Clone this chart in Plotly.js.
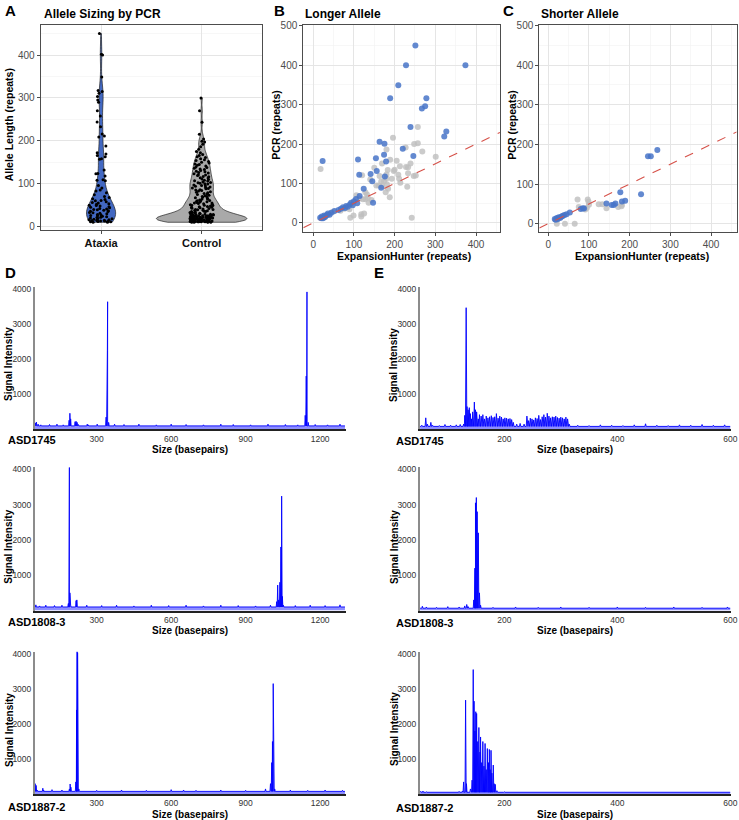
<!DOCTYPE html>
<html>
<head>
<meta charset="utf-8">
<script src="https://cdn.plot.ly/plotly-3.0.1.min.js"></script>
<style>html,body{margin:0;padding:0;background:#fff;}#chart{width:739px;height:820px;}</style>
</head>
<body>
<div id="chart"></div>
<script>
// ---------------- DATA ----------------
// Panel A: allele sizing by PCR (repeats)
const groups = ['Ataxia', 'Control'];
const ataxiaRepeats = [450, 402, 400, 349, 317, 315, 311, 303, 295, 290, 270, 258, 244, 233, 216, 211, 209, 188, 172, 169,
  166, 163, 158, 157, 132, 124, 123, 118, 109, 108, 107, 96, 90, 85, 83, 79, 74, 70, 68, 65,
  63, 61, 60, 58, 56, 55, 53, 52, 50, 49, 48, 46, 45, 44, 42, 41, 40, 39, 38, 37,
  36, 35, 33, 32, 31, 30, 28, 27, 26, 25, 24, 23, 22, 21, 20, 19, 18, 17, 16, 16,
  15, 15, 14, 14, 13, 13, 12, 12, 11, 11, 10, 10];
const controlRepeats = [10, 10, 10, 10, 11, 11, 11, 11, 11, 12, 12, 12, 12, 12, 12, 13, 13, 13, 13, 13,
  13, 14, 14, 14, 14, 14, 15, 15, 15, 15, 15, 15, 16, 16, 16, 16, 16, 17, 17, 17,
  17, 18, 18, 18, 18, 18, 19, 19, 19, 19, 20, 20, 20, 20, 21, 21, 21, 22, 22, 22,
  23, 23, 23, 24, 24, 24, 25, 25, 25, 25, 26, 26, 27, 27, 28, 28, 29, 29, 30, 30,
  31, 31, 32, 33, 33, 34, 35, 35, 36, 37, 38, 38, 39, 40, 40, 41, 42, 43, 44, 45,
  45, 46, 47, 48, 49, 50, 50, 51, 52, 53, 54, 55, 55, 56, 57, 58, 59, 60, 60, 61,
  62, 64, 64, 66, 67, 69, 70, 70, 72, 73, 75, 76, 77, 79, 80, 81, 83, 84, 85, 86,
  88, 89, 90, 91, 92, 94, 95, 96, 97, 99, 100, 102, 101, 103, 104, 106, 107, 108, 110, 111,
  113, 114, 116, 117, 119, 120, 121, 123, 125, 126, 128, 129, 131, 133, 134, 136, 138, 139, 141, 143,
  145, 146, 148, 150, 152, 154, 156, 158, 161, 163, 166, 168, 172, 175, 180, 186, 192, 197, 199, 204,
  215, 243, 270, 300];

// Panel B: longer allele, ExpansionHunter vs PCR (repeats)
const bAtaxiaEH  = [251, 228, 374, 209, 189, 278, 275, 267, 239, 327, 322, 163, 175, 220, 246, 154, 174, 179, 110, 23,
  156, 141, 113, 145, 176, 167, 147, 124, 105, 114, 93, 81, 73, 68, 97, 52, 44, 36, 27, 21,
  17, 26, 31, 40, 108, 85, 62, 20, 24, 29, 34, 90, 100, 78];
const bAtaxiaPCR = [450, 400, 400, 349, 316, 316, 296, 290, 243, 232, 219, 206, 201, 188, 170, 164, 173, 156, 161, 157,
  132, 124, 122, 106, 118, 89, 51, 87, 61, 68, 51, 43, 40, 36, 45, 30, 26, 24, 19, 16,
  13, 14, 18, 21, 50, 41, 33, 12, 12, 15, 20, 47, 55, 38];
const bControlEH  = [18, 196, 257, 227, 248, 257, 268, 301, 180, 169, 189, 205, 239, 228, 233, 213, 198, 183, 180, 209,
  233, 247, 252, 193, 167, 155, 169, 181, 214, 231, 211, 120, 188, 242, 91, 99, 118, 118, 125, 114,
  128, 134, 143, 132, 128, 136, 89, 77, 67, 48, 161, 163, 180, 174, 184, 178, 106, 150, 140, 200, 122];
const bControlPCR = [137, 216, 243, 191, 200, 202, 181, 168, 186, 151, 160, 158, 151, 142, 141, 144, 132, 134, 123, 122,
  126, 119, 120, 112, 105, 95, 93, 98, 102, 92, 112, 121, 65, 13, 13, 19, 16, 22, 24, 62,
  60, 64, 58, 72, 78, 51, 35, 36, 31, 28, 95, 119, 113, 106, 87, 78, 70, 140, 110, 135, 60];

// Panel C: shorter allele
const cAtaxiaEH  = [268, 245, 252, 177, 228, 189, 181, 165, 156, 161, 143, 85, 80, 88, 53, 40, 34, 31, 26, 21, 16, 23, 29, 18, 36, 45];
const cAtaxiaPCR = [186, 170, 170, 79, 74, 58, 56, 51, 47, 47, 51, 39, 37, 38, 28, 22, 19, 17, 16, 14, 12, 11, 14, 10, 20, 24];
const cControlEH  = [72, 97, 99, 124, 133, 143, 172, 181, 95, 91, 21, 41, 65, 180, 100, 75];
const cControlPCR = [61, 61, 55, 49, 49, 39, 42, 48, 40, 36, 0, 0, 0, 44, 48, 42];

// reference line PCR = slope * ExpansionHunter
const refSlope = 0.5;

// Panels D/E: capillary electropherograms (size in bp, signal intensity)
const sampleNames = ['ASD1745', 'ASD1808-3', 'ASD1887-2'];
const dScan = [51, 1300];
const eScan = [51, 600];

const d1Floor = 100;
const d1PeakSize   = [53, 57, 64, 75, 110, 140, 165, 189, 192, 195, 213, 217, 221, 226, 262, 266, 302, 338, 341, 343,
  344, 346, 348, 372, 410, 470, 540, 600, 660, 730, 800, 850, 920, 990, 1060, 1110, 1140, 1144, 1147, 1149, 1152, 1180, 1230, 1280];
const d1PeakSignal = [180, 210, 150, 130, 140, 150, 130, 260, 460, 300, 220, 230, 200, 140, 150, 130, 150, 350, 950, 2250,
  3640, 550, 200, 150, 140, 150, 130, 150, 140, 130, 150, 140, 130, 150, 140, 130, 400, 1520, 3920, 350, 200, 140, 130, 150];

const d2Floor = 100;
const d2PeakSize   = [55, 70, 95, 130, 160, 186, 188, 190, 192, 195, 217, 220, 260, 320, 380, 450, 520, 590, 660, 730,
  800, 870, 940, 1000, 1025, 1029, 1033, 1038, 1042, 1045, 1048, 1052, 1100, 1160, 1220, 1280];
const d2PeakSignal = [160, 130, 150, 140, 150, 200, 1200, 4050, 500, 150, 280, 300, 150, 140, 150, 130, 150, 140, 150, 130,
  150, 140, 130, 150, 250, 720, 300, 800, 1800, 3240, 400, 150, 140, 150, 140, 160];

const d3Floor = 80;
const d3PeakSize   = [52, 56, 60, 83, 86, 120, 160, 190, 193, 196, 216, 219, 221, 223, 225, 228, 300, 400, 500, 600,
  650, 700, 800, 900, 980, 1000, 1005, 1008, 1011, 1014, 1017, 1080, 1150, 1220, 1290];
const d3PeakSignal = [300, 250, 120, 170, 120, 130, 120, 150, 290, 200, 350, 2400, 4060, 4030, 800, 150, 110, 120, 110, 130,
  120, 110, 120, 110, 150, 300, 900, 1500, 3150, 400, 150, 120, 110, 120, 110];

const e1Floor = 85;
const e1PeakSize   = [54, 61, 64, 70, 73, 85, 95, 105, 115, 122, 128, 130, 132.5, 134, 136, 138, 140, 142, 144, 147,
  149, 151, 154, 156, 159, 162, 165, 168, 171, 174, 177, 180, 183, 186, 189, 192, 195, 198, 201, 204,
  207, 210, 213, 216, 222, 228, 235, 240, 243, 246, 249, 252, 255, 258, 261, 264, 267, 270, 273, 276,
  279, 282, 285, 288, 291, 294, 297, 300, 303, 306, 309, 312, 315, 330, 350, 370, 390, 410, 430, 450,
  470, 490, 510, 530, 550, 570, 590];
const e1PeakSignal = [120, 330, 150, 200, 120, 110, 140, 120, 130, 140, 150, 400, 3470, 650, 560, 620, 450, 300, 500, 780,
  560, 500, 300, 420, 380, 420, 300, 380, 330, 360, 390, 340, 360, 450, 320, 380, 350, 300, 330, 320,
  300, 310, 280, 200, 150, 170, 150, 380, 250, 320, 300, 270, 330, 310, 400, 280, 360, 420, 350, 460,
  380, 330, 360, 350, 380, 340, 320, 350, 330, 300, 350, 300, 150, 120, 110, 130, 120, 110, 130, 160,
  120, 110, 130, 120, 140, 120, 130];

const e2Floor = 65;
const e2PeakSize   = [55, 62, 80, 100, 120, 130, 133.5, 136, 146, 148, 149, 150.5, 152, 154, 156, 158, 180, 220, 260, 300,
  350, 400, 450, 500, 550, 595];
const e2PeakSignal = [120, 100, 90, 110, 100, 130, 170, 110, 300, 1200, 3050, 3200, 2800, 2200, 500, 150, 90, 100, 90, 100,
  90, 100, 90, 100, 90, 100];

const e3Floor = 55;
const e3PeakSize   = [52, 56, 62, 80, 100, 120, 126, 128, 131.5, 133, 140, 143, 145, 146.5, 148, 149.5, 151, 153, 155, 157,
  158, 160, 162, 164, 166, 168, 170, 172, 173.5, 175, 176.5, 178, 180.5, 182, 184, 187, 200, 250, 300, 350,
  400, 450, 500, 550, 595];
const e3PeakSignal = [80, 90, 70, 60, 70, 80, 90, 350, 2680, 300, 150, 400, 3550, 2650, 1800, 2350, 2300, 1500, 1900, 1200,
  1630, 900, 1500, 800, 1445, 700, 1300, 900, 1275, 700, 1250, 600, 830, 300, 280, 100, 70, 60, 70, 60,
  70, 60, 70, 60, 70];

// ---------------- LAYOUT HELPERS ----------------
const W = 739, H = 820;
const FONT = 'Liberation Sans, Arial, Helvetica, sans-serif';
const dx = (a, b) => [a / W, b / W];
const dy = (top, bottom) => [1 - bottom / H, 1 - top / H];
function ann(text, x, y, size, extra) {
  return Object.assign({text: text, x: x / W, y: 1 - y / H, xref: 'paper', yref: 'paper', showarrow: false,
    xanchor: 'center', yanchor: 'middle', font: {family: FONT, size: size, color: '#000'}}, extra || {});
}

// build an electropherogram trace outline from a peak list
function trace(size, signal, floor, scan, halfW) {
  const v = [[scan[0], floor]];
  size.forEach((s, i) => { v.push([s - halfW, floor], [s, signal[i]], [s + halfW, floor]); });
  v.push([scan[1], floor]);
  v.sort((a, b) => a[0] - b[0]);
  return {x: v.map(p => p[0]), y: v.map(p => p[1])};
}

const traces = [];

// Panel A violins
const violinCommon = {type: 'violin', xaxis: 'x', yaxis: 'y', points: 'all', pointpos: 0, spanmode: 'hard',
  scalemode: 'width', box: {visible: false}, meanline: {visible: false},
  line: {color: '#222222', width: 0.7}, marker: {color: '#000', size: 3, line: {width: 0}}, hoverinfo: 'skip'};
traces.push(Object.assign({}, violinCommon, {x: ataxiaRepeats.map(() => groups[0]), y: ataxiaRepeats, name: groups[0],
  fillcolor: '#4268c2', width: 0.29, jitter: 0.85, scalegroup: 'a', bandwidth: 22}));
traces.push(Object.assign({}, violinCommon, {x: controlRepeats.map(() => groups[1]), y: controlRepeats, name: groups[1],
  fillcolor: '#a9a9a9', width: 0.9, jitter: 0.26, scalegroup: 'c', bandwidth: 9}));

// Panels B/C scatter
const grayPt = {color: 'rgba(190,190,190,0.8)', size: 6};
const bluePt = {color: 'rgba(72,116,200,0.85)', size: 6};
traces.push({type: 'scatter', mode: 'markers', x: bControlEH, y: bControlPCR, xaxis: 'x2', yaxis: 'y2', marker: grayPt, name: 'Control'});
traces.push({type: 'scatter', mode: 'markers', x: bAtaxiaEH, y: bAtaxiaPCR, xaxis: 'x2', yaxis: 'y2', marker: bluePt, name: 'Ataxia'});
traces.push({type: 'scatter', mode: 'markers', x: cControlEH, y: cControlPCR, xaxis: 'x3', yaxis: 'y3', marker: grayPt, name: 'Control'});
traces.push({type: 'scatter', mode: 'markers', x: cAtaxiaEH, y: cAtaxiaPCR, xaxis: 'x3', yaxis: 'y3', marker: bluePt, name: 'Ataxia'});

// Panels D/E electropherograms
const eps = [
  [d1PeakSize, d1PeakSignal, d1Floor, dScan, 2.0, 'x4', 'y4'],
  [d2PeakSize, d2PeakSignal, d2Floor, dScan, 2.0, 'x5', 'y5'],
  [d3PeakSize, d3PeakSignal, d3Floor, dScan, 2.0, 'x6', 'y6'],
  [e1PeakSize, e1PeakSignal, e1Floor, eScan, 1.2, 'x7', 'y7'],
  [e2PeakSize, e2PeakSignal, e2Floor, eScan, 1.0, 'x8', 'y8'],
  [e3PeakSize, e3PeakSignal, e3Floor, eScan, 1.0, 'x9', 'y9']
];
eps.forEach(e => {
  const t = trace(e[0], e[1], e[2], e[3], e[4]);
  traces.push({type: 'scatter', mode: 'lines', x: t.x, y: t.y, xaxis: e[5], yaxis: e[6],
    line: {color: 'rgba(0,0,255,0.9)', width: 1}, fill: 'tozeroy', fillcolor: 'rgba(30,30,255,0.5)', hoverinfo: 'skip'});
});

// ---------------- AXES ----------------
const tickFont = {family: FONT, size: 10, color: '#4d4d4d'};
const minorGrid = {dtick: 50, tick0: 0, showgrid: true, gridcolor: '#f2f2f2', gridwidth: 0.6};
function frame(extra) {
  return Object.assign({showline: true, mirror: true, linecolor: '#4d4d4d', linewidth: 1, ticks: 'outside', ticklen: 3,
    tickwidth: 1, tickcolor: '#4d4d4d', showgrid: true, gridcolor: '#e5e5e5', gridwidth: 1, zeroline: false,
    tickfont: tickFont, fixedrange: true}, extra);
}
const eTick = {family: FONT, size: 8.5, color: '#333'};
function ex(extra) {
  return Object.assign({showline: true, linecolor: '#222', linewidth: 2, showgrid: false, zeroline: false, ticks: '',
    tickfont: eTick, fixedrange: true}, extra);
}
function ey(extra) {
  return Object.assign({showline: true, linecolor: '#8c8c8c', linewidth: 2, showgrid: false, zeroline: false, ticks: '',
    tickvals: [1000, 2000, 3000, 4000], tickfont: eTick, fixedrange: true}, extra);
}

const rows = [[287, 429.4, 4060], [467, 610.5, 4065], [651.5, 794.2, 4065]];

const layout = {
  width: W, height: H, margin: {l: 0, r: 0, t: 0, b: 0}, showlegend: false, hovermode: false,
  paper_bgcolor: '#fff', plot_bgcolor: '#fff', font: {family: FONT}, violinmode: 'overlay',
  xaxis: frame({domain: dx(40.7, 262), anchor: 'y', type: 'category', categoryorder: 'array', categoryarray: groups,
    range: [-0.6, 1.6], tickfont: {family: FONT, size: 11, color: '#111', weight: 'bold'}}),
  yaxis: frame({domain: dy(25, 230), anchor: 'x', range: [-8, 470], tick0: 0, dtick: 100, minor: minorGrid}),
  xaxis2: frame({domain: dx(303.3, 500), anchor: 'y2', range: [-24.5, 459], tick0: 0, dtick: 100, minor: minorGrid}),
  yaxis2: frame({domain: dy(25, 232), anchor: 'x2', range: [-23, 502], tick0: 0, dtick: 100, minor: minorGrid}),
  xaxis3: frame({domain: dx(539.3, 736.7), anchor: 'y3', range: [-22, 463], tick0: 0, dtick: 100, minor: minorGrid}),
  yaxis3: frame({domain: dy(25, 232), anchor: 'x3', range: [-21, 501], tick0: 0, dtick: 100, minor: minorGrid}),
  shapes: [],
  annotations: []
};
for (let r = 0; r < 3; r++) {
  const [top, bot, ymax] = rows[r];
  layout['xaxis' + (4 + r)] = ex({domain: dx(35, 345.7), anchor: 'y' + (4 + r), range: [51.5, 1303], tickvals: [300, 600, 900, 1200]});
  layout['yaxis' + (4 + r)] = ey({domain: dy(top, bot), anchor: 'x' + (4 + r), range: [0, ymax]});
  layout['xaxis' + (7 + r)] = ex({domain: dx(420, 730.7), anchor: 'y' + (7 + r), range: [50.8, 600.7], tickvals: [200, 400, 600]});
  layout['yaxis' + (7 + r)] = ey({domain: dy(top, bot), anchor: 'x' + (7 + r), range: [0, ymax]});
}

// reference lines PCR = slope * EH
[['x2', 'y2', layout.xaxis2.range], ['x3', 'y3', layout.xaxis3.range]].forEach(s => {
  layout.shapes.push({type: 'line', xref: s[0], yref: s[1], x0: s[2][0], y0: refSlope * s[2][0], x1: s[2][1], y1: refSlope * s[2][1],
    line: {color: '#d6524a', width: 1.1, dash: 'dash'}, layer: 'above'});
});

// ---------------- TEXT ----------------
const A = layout.annotations;
A.push(ann('<b>A</b>', 3, 10, 15, {xanchor: 'left'}));
A.push(ann('<b>Allele Sizing by PCR</b>', 41.7, 14, 12, {xanchor: 'left'}));
A.push(ann('<b>B</b>', 272, 10, 15, {xanchor: 'left'}));
A.push(ann('<b>Longer Allele</b>', 303.3, 14, 12, {xanchor: 'left'}));
A.push(ann('<b>C</b>', 501, 10, 15, {xanchor: 'left'}));
A.push(ann('<b>Shorter Allele</b>', 539.3, 14, 12, {xanchor: 'left'}));
A.push(ann('<b>Allele Length (repeats)</b>', 9.3, 125, 10.5, {textangle: -90}));
A.push(ann('<b>PCR (repeats)</b>', 275.7, 125, 10.5, {textangle: -90}));
A.push(ann('<b>PCR (repeats)</b>', 511.7, 125, 10.5, {textangle: -90}));
A.push(ann('<b>ExpansionHunter (repeats)</b>', 404, 256.5, 10.5));
A.push(ann('<b>ExpansionHunter (repeats)</b>', 642, 256.5, 10.5));
A.push(ann('<b>D</b>', 3, 272, 15, {xanchor: 'left'}));
A.push(ann('<b>E</b>', 372, 272, 15, {xanchor: 'left'}));
const sigY = [[364, 365], [546.7, 547], [730, 729]];
const sizeY = [449, 630, 814];
const nameY = [440, 622, 806.5];
for (let r = 0; r < 3; r++) {
  A.push(ann('<b>Signal Intensity</b>', 9, sigY[r][0], 10, {textangle: -90}));
  A.push(ann('<b>Signal Intensity</b>', 394, sigY[r][1], 10, {textangle: -90}));
  A.push(ann('<b>Size (basepairs)</b>', 190, sizeY[r], 10));
  A.push(ann('<b>Size (basepairs)</b>', 575, sizeY[r], 10));
  A.push(ann('<b>' + sampleNames[r] + '</b>', 6, nameY[r], 11, {xanchor: 'left'}));
  A.push(ann('<b>' + sampleNames[r] + '</b>', 394, nameY[r] + 1, 11, {xanchor: 'left'}));
}

Plotly.newPlot('chart', traces, layout, {staticPlot: true, displayModeBar: false});
</script>
</body>
</html>
